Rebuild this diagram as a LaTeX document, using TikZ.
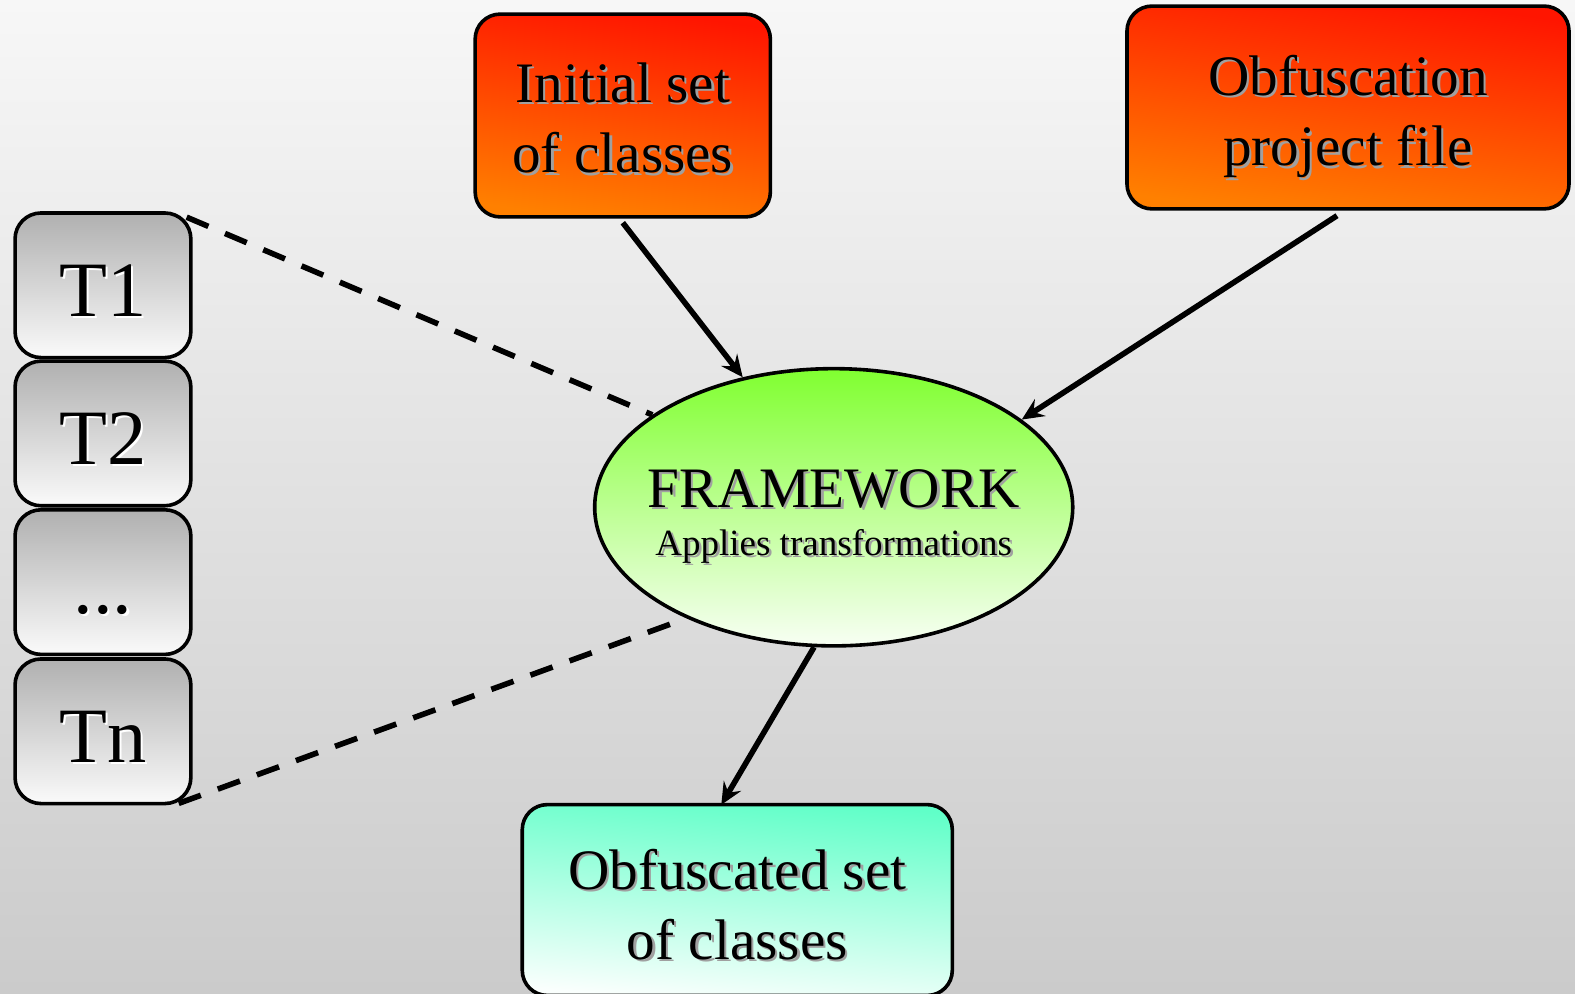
\documentclass[tikz,border=0pt]{standalone}
\usepackage{fontspec}
\setmainfont{Liberation Serif}
\usetikzlibrary{arrows.meta,shapes.geometric}
\definecolor{bgtop}{HTML}{F7F7F7}
\definecolor{bgbot}{HTML}{CBCBCB}
\definecolor{redtop}{HTML}{FF1500}
\definecolor{redbot}{HTML}{FF8000}
\definecolor{greentop}{HTML}{80FF30}
\definecolor{greenbot}{HTML}{F8FFF4}
\definecolor{tealtop}{HTML}{60FFC8}
\definecolor{tealbot}{HTML}{FAFFFD}
\definecolor{graytop}{HTML}{B0B0B0}
\definecolor{graybot}{HTML}{FAFAFA}
\definecolor{shgray}{HTML}{A0A0A0}
\newcommand\shd[2][shgray]{\leavevmode\rlap{\kern1.2pt\raisebox{-1.2pt}{\textcolor{#1}{#2}}}#2}
\newcommand\twol[2]{\begin{tabular}[t]{@{}c@{}}\shd{#1}\\\shd{#2}\end{tabular}}
\begin{document}
\begin{tikzpicture}[x=0.5022pt,y=-0.5022pt,
  bigtext/.style={font=\fontsize{28.6}{35.15}\selectfont},
  box/.style={draw=black, line width=1.8pt, rounded corners=12.5pt, inner sep=0pt, bigtext},
  redbox/.style={box, top color=redtop, bottom color=redbot, shading angle=-8, minimum height=101.4pt, text height=0pt},
  tealbox/.style={box, top color=tealtop, bottom color=tealbot, shading angle=-5},
  tbox/.style={draw=black, line width=1.8pt, rounded corners=13pt, inner sep=0pt,
    top color=graytop, bottom color=graybot, minimum width=87.9pt, minimum height=72.3pt,
    font=\fontsize{39.2}{45}\selectfont, text height=31pt, text depth=0pt},
  fwnode/.style={ellipse, draw=black, line width=1.8pt, inner sep=0pt,
    top color=greentop, bottom color=greenbot, minimum width=239pt, minimum height=138.6pt,
    font=\fontsize{28.6}{24.1}\selectfont, text height=0pt, text depth=0pt},
  flow/.style={line width=2.8pt, -{Stealth[length=11pt, width=10pt, inset=4pt]}},
  link/.style={line width=2.8pt, dash pattern=on 11.8pt off 9pt}
]
\useasboundingbox (0,0) rectangle (1568,988.6);
\shade[top color=bgtop, bottom color=bgbot] (0,0) rectangle (1568,988.6);

\node[redbox, minimum width=147.6pt, text depth=13pt] (init) at (620,115) {\twol{Initial set}{of classes}};
\node[redbox, minimum width=221pt, text depth=12pt] (proj) at (1342,107) {\twol{Obfuscation}{project file}};
\node[tealbox, minimum width=215pt, minimum height=95.4pt, text height=0pt, text depth=11pt] (out) at (734,896) {\twol{Obfuscated set}{of classes}};

\node[tbox] (t1) at (102.5,284) {\shd[white]{T1}};
\node[tbox] (t2) at (102.5,431.5) {\shd[white]{T2}};
\node[tbox] (td) at (102.5,579.5) {\shd[white]{...}};
\node[tbox] (tn) at (102.5,728) {\shd[white]{Tn}};

\node[fwnode] (fw) at (830,505) {\makebox[0pt]{\begin{tabular}[t]{@{}c@{}}\shd{FRAMEWORK}\\{\fontsize{18.5}{22}\selectfont\shd{Applies transformations}}\end{tabular}}};

\draw[flow] ([yshift=-2pt]init.south) -- (fw.125);
\draw[flow] ([xshift=-5.5pt,yshift=-2.5pt]proj.south) -- (fw.25);
\draw[flow] (fw.262) -- ([xshift=-8pt,yshift=-1pt]out.north);
\draw[link] ([xshift=-3pt,yshift=-3pt]t1.north east) -- (fw.153);
\draw[link] ([xshift=-7pt,yshift=1pt]tn.south east) -- (fw.217);
\end{tikzpicture}
\end{document}
